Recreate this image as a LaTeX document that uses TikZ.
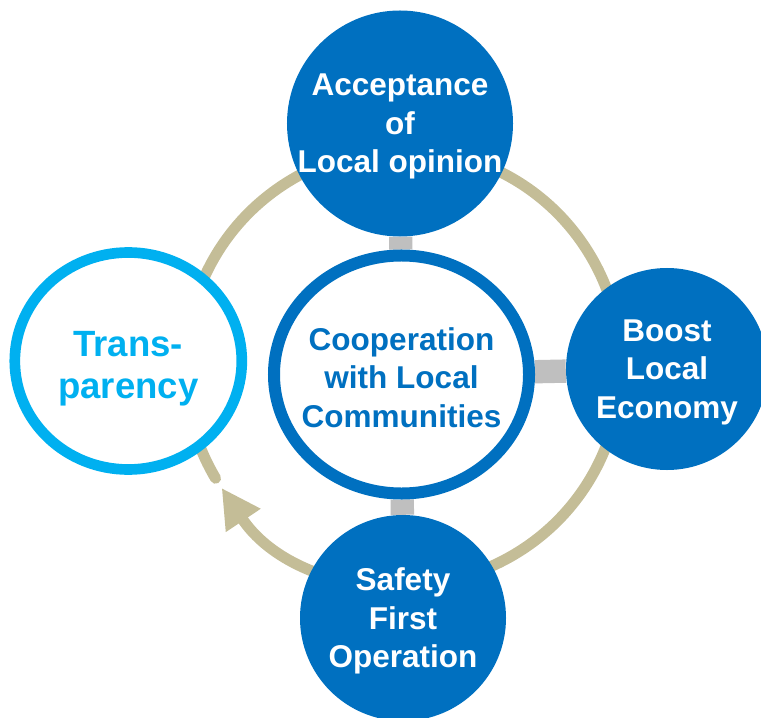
\documentclass[tikz,border=0pt]{standalone}
\usepackage{fontspec}
\setmainfont{Liberation Sans}
\usetikzlibrary{shapes.geometric, backgrounds, arrows.meta}
\definecolor{deep}{RGB}{0, 112, 192}
\definecolor{sky}{RGB}{0, 176, 240}
\definecolor{sand}{RGB}{196, 189, 151}
\definecolor{ash}{RGB}{191, 191, 191}
\newcommand*{\ringradius}{6.54cm}

\begin{document}
\begin{tikzpicture}[x=0.03cm, y=0.03cm,
  bubble/.style={circle, fill=deep, inner sep=0pt},
  frame/.style={ellipse, draw, fill=white, inner sep=0pt},
  word/.style={text=white, align=center, yshift=-0.09cm,
    font=\fontsize{26.9pt}{32.9pt}\selectfont\bfseries},
  bar/.style={ash, line width=0.7cm}]
  \useasboundingbox (0, 0) rectangle (761, 717);

  \coordinate (ring) at (403, 350);

  \node[frame, draw=deep, line width=0.36cm, minimum width=7.65cm, minimum height=7.14cm,
    label={[word, text=deep]center:{Cooperation\\with Local\\Communities}}] (hub) at (401.5, 342.5) {};

  \node[bubble, minimum size=6.78cm,
    label={[word]center:{Acceptance\\of\\Local opinion}}] (accept) at (400, 593.5) {};
  \node[bubble, minimum size=6.06cm,
    label={[word]center:{Boost\\Local\\Economy}}] (economy) at (667, 348) {};
  \node[bubble, minimum size=6.18cm,
    label={[word]center:{Safety\\First\\Operation}}] (safety) at (403, 99) {};

  \node[frame, draw=sky, line width=0.32cm, minimum width=6.81cm, minimum height=6.51cm,
    label={[word, text=sky, yshift=-0.15cm, font=\fontsize{31.2pt}{35.9pt}\selectfont\bfseries]center:{Trans-\\parency}}]
    (transp) at (128.3, 356) {};

  \begin{scope}[on background layer]
    % cycle arrow round the hub
    \draw[sand, line width=0.33cm, line cap=round, -{Triangle[length=1.17cm, width=1.17cm]}]
      (ring) ++(210.7:\ringradius) arc[start angle=210.7, end angle=-146.3, radius=\ringradius];

    \draw[bar] (hub) -- (accept);
    \draw[bar] (hub) -- (economy);
    \draw[bar] (hub) -- (safety);
  \end{scope}
\end{tikzpicture}
\end{document}
